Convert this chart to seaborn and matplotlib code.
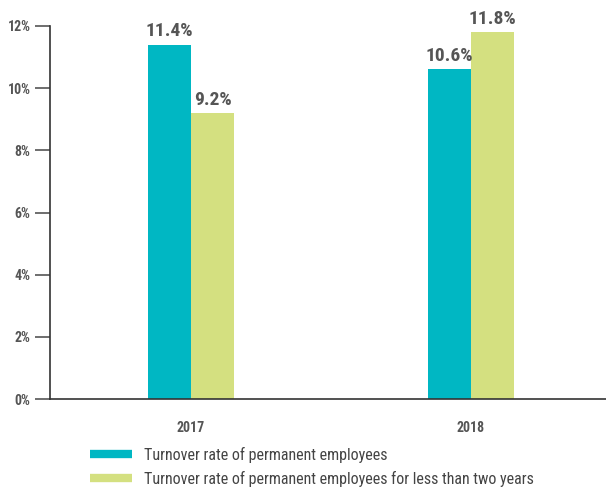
import pandas as pd
import seaborn as sns
import matplotlib.pyplot as plt
from matplotlib.lines import Line2D

# data
years = ['2017', '2018']
series = ['Turnover rate of permanent employees',
          'Turnover rate of permanent employees for less than two years']
permanent = [11.4, 10.6]
less_two_years = [9.2, 11.8]
colors = ['#00B7C3', '#D4E080']

df = pd.DataFrame({
    'year': years * 2,
    'series': [series[0]] * 2 + [series[1]] * 2,
    'rate': permanent + less_two_years,
})

sns.set_style('white')
plt.rcParams['font.family'] = ['Roboto Condensed', 'DejaVu Sans']

fig = plt.figure(figsize=(6.06, 4.88), dpi=100)
ax = fig.add_axes([0.0825, 0.182, 0.9175, 0.765])

sns.barplot(data=df, x='year', y='rate', hue='series', palette=colors,
            width=0.307, saturation=1, linewidth=0, ax=ax, legend=False)

for cont in ax.containers:
    ax.bar_label(cont, labels=[f'{v:.1f}%' for v in cont.datavalues],
                 padding=3, fontsize=14, fontweight='bold', color='#555555')

ax.set_xlim(-0.504, 1.482)
ax.set_ylim(0, 12)
ax.set_yticks(range(0, 13, 2))
ax.set_yticklabels([f'{t}%' for t in range(0, 13, 2)])
ax.set_xlabel('')
ax.set_ylabel('')
sns.despine(ax=ax, top=True, right=True)
ax.spines['left'].set_color('#333333')
ax.spines['bottom'].set_color('#333333')
ax.spines['left'].set_linewidth(1.2)
ax.spines['bottom'].set_linewidth(1.2)
ax.tick_params(axis='y', length=11, width=1.2, color='#555555', labelsize=10,
               labelcolor='#555555', pad=3, left=True)
ax.tick_params(axis='x', length=0, labelsize=10, labelcolor='#555555', pad=16)
for lbl in ax.get_yticklabels() + ax.get_xticklabels():
    lbl.set_fontweight('bold')

handles = [Line2D([], [], color=c, lw=6, solid_capstyle='butt') for c in colors]
fig.legend(handles, series, loc='upper left', bbox_to_anchor=(0.14, 0.092),
           frameon=False, fontsize=11.5, handlelength=2.6, handletextpad=0.75,
           labelspacing=0.5, labelcolor='#444444', borderaxespad=0)
leg = fig.legends[0]
leg.set_bbox_to_anchor((0.138, 0.098), transform=fig.transFigure)

fig.savefig('out.png', dpi=100)
